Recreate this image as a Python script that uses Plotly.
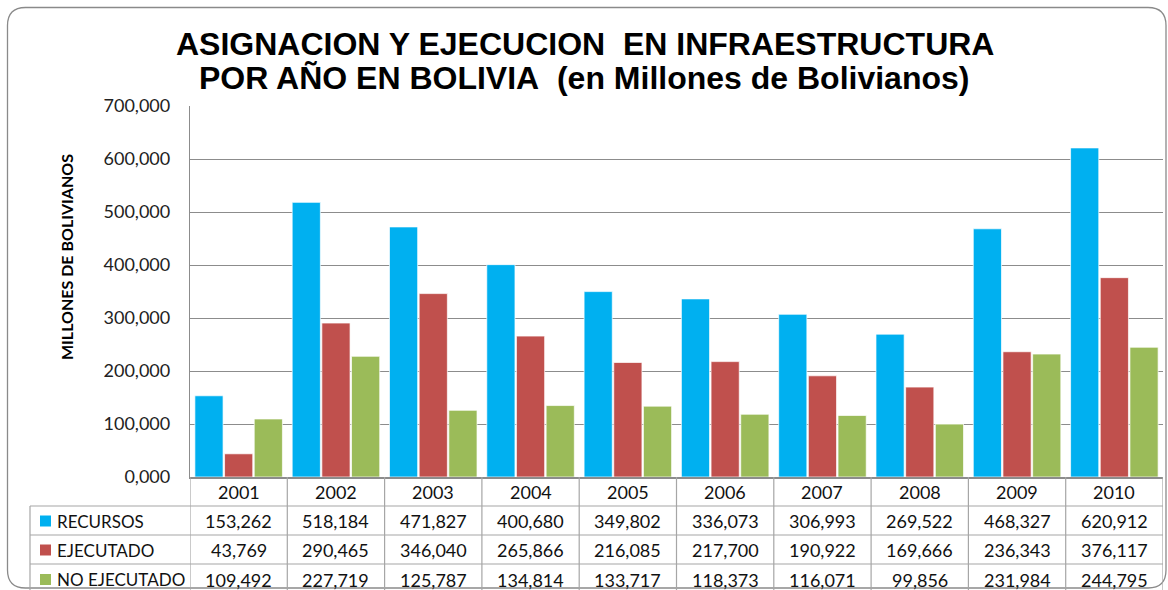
import plotly.graph_objects as go

# ---------------- data ----------------
years = ["2001", "2002", "2003", "2004", "2005", "2006", "2007", "2008", "2009", "2010"]
series_names = ["RECURSOS", "EJECUTADO", "NO EJECUTADO"]
recursos = [153.262, 518.184, 471.827, 400.680, 349.802, 336.073, 306.993, 269.522, 468.327, 620.912]
ejecutado = [43.769, 290.465, 346.040, 265.866, 216.085, 217.700, 190.922, 169.666, 236.343, 376.117]
no_ejecutado = [109.492, 227.719, 125.787, 134.814, 133.717, 118.373, 116.071, 99.856, 231.984, 244.795]
colors = ["#00B0F0", "#C0504D", "#9BBB59"]
y_ticks = [0, 100, 200, 300, 400, 500, 600, 700]

title_1 = "ASIGNACION Y EJECUCION\u00a0 EN INFRAESTRUCTURA"
title_2 = "POR AÑO EN BOLIVIA\u00a0 (en Millones de Bolivianos)"
y_title = "MILLONES DE BOLIVIANOS"

# ---------------- layout geometry (screen pixels) ----------------
W, H = 1168, 590
L, R, T, B = 190, 1163, 106, 477   # plot area


def px(x):
    return (x - L) / (R - L)


def py(y):
    return (B - y) / (B - T)


def fmt(v):
    return f"{v:.3f}".replace(".", ",")


values = [recursos, ejecutado, no_ejecutado]

fig = go.Figure()
for name, vals, col in zip(series_names, values, colors):
    fig.add_trace(go.Bar(
        x=years, y=vals, name=name,
        marker=dict(color=col, line=dict(color="rgba(255,255,255,0.7)", width=1)),
        showlegend=False, hoverinfo="x+y+name",
    ))

CAL = "Lato, Carlito, Calibri, sans-serif"
ARIAL = "Liberation Sans, Arial, sans-serif"
GRID = "#8c8c8c"
TBL = "#a6a6a6"

shapes = []
annotations = []

# rounded chart border
x0, y0, x1, y1, r = 7.5, 7.5, 1166, 588, 18
path = (f"M {px(x0+r)},{py(y0)} L {px(x1-r)},{py(y0)} "
        f"Q {px(x1)},{py(y0)} {px(x1)},{py(y0+r)} "
        f"L {px(x1)},{py(y1-r)} Q {px(x1)},{py(y1)} {px(x1-r)},{py(y1)} "
        f"L {px(x0+r)},{py(y1)} Q {px(x0)},{py(y1)} {px(x0)},{py(y1-r)} "
        f"L {px(x0)},{py(y0+r)} Q {px(x0)},{py(y0)} {px(x0+r)},{py(y0)} Z")
shapes.append(dict(type="path", xref="paper", yref="paper", path=path,
                   line=dict(color="#8a8a8a", width=1.3), layer="below"))

# table grid
row_edges = [506, 535, 564]
row_centers = [521, 550, 579.5]
for ye in row_edges:
    shapes.append(dict(type="line", xref="paper", yref="paper",
                       x0=px(30), x1=px(R), y0=py(ye), y1=py(ye),
                       line=dict(color=TBL, width=1.2)))
shapes.append(dict(type="line", xref="paper", yref="paper",
                   x0=px(30), x1=px(30), y0=py(506), y1=py(600),
                   line=dict(color=TBL, width=1.2)))
for i in range(len(years) + 1):
    shapes.append(dict(type="line", xref="x", yref="paper",
                       x0=i - 0.5, x1=i - 0.5, y0=py(B), y1=py(600),
                       line=dict(color=TBL, width=1.2)))

# legend keys + series names
for name, col, yc in zip(series_names, colors, row_centers):
    shapes.append(dict(type="rect", xref="paper", yref="paper",
                       x0=px(40), x1=px(51), y0=py(yc - 5.5), y1=py(yc + 5.5),
                       fillcolor=col, line=dict(width=0)))
    annotations.append(dict(text=name, xref="paper", yref="paper",
                            x=px(55), y=py(yc), xanchor="left", yanchor="middle",
                            showarrow=False, font=dict(family=CAL, size=17, color="#111")))

# year header
for i, yr in enumerate(years):
    annotations.append(dict(text=yr, xref="x", yref="paper", x=i, y=py(492),
                            xanchor="center", yanchor="middle", showarrow=False,
                            font=dict(family=CAL, size=18, color="#111")))
# values
for vals, yc in zip(values, row_centers):
    for i, v in enumerate(vals):
        annotations.append(dict(text=fmt(v), xref="x", yref="paper", x=i, y=py(yc),
                                xanchor="center", yanchor="middle", showarrow=False,
                                font=dict(family=CAL, size=18, color="#111")))

# titles
annotations.append(dict(text=f"<b>{title_1}</b>", xref="paper", yref="paper",
                        x=px(585), y=py(44), xanchor="center", yanchor="middle",
                        showarrow=False, font=dict(family=ARIAL, size=32, color="#000")))
annotations.append(dict(text=f"<b>{title_2}</b>", xref="paper", yref="paper",
                        x=px(584), y=py(78), xanchor="center", yanchor="middle",
                        showarrow=False, font=dict(family=ARIAL, size=32, color="#000")))
annotations.append(dict(text=f"<b>{y_title}</b>", xref="paper", yref="paper",
                        x=px(66), y=py(257), xanchor="center", yanchor="middle",
                        textangle=-90, showarrow=False,
                        font=dict(family=CAL, size=16, color="#000")))

fig.update_layout(
    width=W, height=H,
    margin=dict(l=L, r=W - R, t=T, b=H - B),
    paper_bgcolor="white", plot_bgcolor="white",
    separators=",.",
    barmode="group", bargap=0.085, bargroupgap=0.05,
    shapes=shapes, annotations=annotations,
    xaxis=dict(type="category", range=[-0.5, 9.5], showticklabels=False,
               showgrid=False, showline=True, linecolor=GRID, linewidth=1.5,
               zeroline=False, fixedrange=True),
    yaxis=dict(range=[0, 700], tickvals=y_ticks, tickformat=".3f",
               showgrid=True, gridcolor=GRID, gridwidth=1.3,
               showline=True, linecolor=GRID, linewidth=1.3,
               zeroline=False, ticks="", ticklabelstandoff=15,
               tickfont=dict(family=CAL, size=18, color="#222"), fixedrange=True),
)

fig.write_html(
    "out.html",
    config={"displayModeBar": False},
    post_script="document.body.style.margin='0';document.body.style.overflow='hidden';",
)
